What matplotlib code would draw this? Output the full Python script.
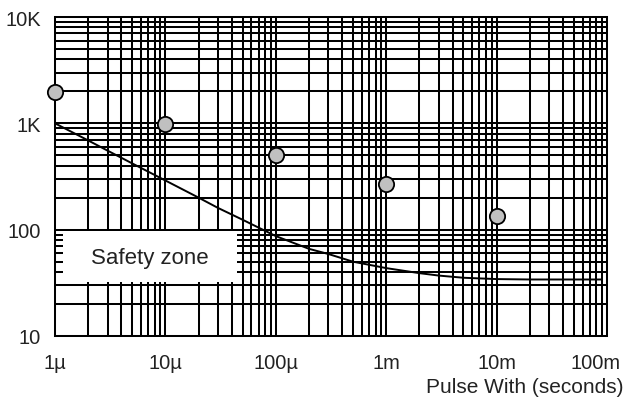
import matplotlib.pyplot as plt
from matplotlib.patches import Rectangle
from matplotlib.ticker import LogLocator, NullFormatter
import matplotlib.transforms as mtransforms

plt.rcParams['font.family'] = ['Liberation Sans', 'DejaVu Sans']

# measured surge points (pulse width in seconds, value)
pulse_pts = [1e-6, 1e-5, 1e-4, 1e-3, 1e-2]
surge_pts = [1950, 985, 503, 268, 134]

# limit curve
curve_t = [1e-6, 2e-6, 3e-6, 5e-6, 1e-5, 2e-5, 3e-5, 5e-5, 1e-4, 2e-4,
           3e-4, 5e-4, 1e-3, 2e-3, 3e-3, 5e-3, 1e-2, 2e-2, 5e-2, 9e-2]
curve_v = [1000, 690, 553, 420, 290, 200, 160, 124, 87, 66,
           59, 50, 43.5, 39, 37, 35.3, 34.3, 34, 34, 34]

xticks = [1e-6, 1e-5, 1e-4, 1e-3, 1e-2, 1e-1]
xlabels = ['1µ', '10µ', '100µ', '1m', '10m', '100m']
yticks = [10, 100, 1000, 10000]
ylabels = ['10', '100', '1K', '10K']

txt = '#222222'

fig = plt.figure(figsize=(6.28, 4.02), dpi=100)
ax = fig.add_axes([55/628, 1 - 337/402, 552/628, 319/402])
ax.set_xscale('log')
ax.set_yscale('log')
ax.set_xlim(1e-6, 1e-1)
ax.set_ylim(10, 10000)

# full log grid, major and minor, all the same black lines
ax.xaxis.set_minor_locator(LogLocator(base=10, subs=range(2, 10), numticks=20))
ax.yaxis.set_minor_locator(LogLocator(base=10, subs=range(2, 10), numticks=20))
ax.xaxis.set_minor_formatter(NullFormatter())
ax.yaxis.set_minor_formatter(NullFormatter())
ax.set_axisbelow(True)
ax.grid(True, which='both', color='black', linewidth=1.45)

ax.set_xticks(xticks)
ax.set_xticklabels(xlabels)
ax.set_yticks(yticks)
ax.set_yticklabels(ylabels)
ax.tick_params(which='both', length=0, labelsize=14.5, colors=txt)
ax.tick_params(axis='x', pad=12)
ax.tick_params(axis='y', pad=10)
for s in ax.spines.values():
    s.set_color('black')
    s.set_linewidth(1.45)

# nudge the last x label so it stays inside the figure
last = ax.get_xticklabels()[-1]
last.set_transform(last.get_transform() +
                   mtransforms.ScaledTranslation(-11/100, 0, fig.dpi_scale_trans))

# white box for the safety zone label
box = Rectangle((1.18e-6, 32), 44.6e-6 - 1.18e-6, 97 - 32,
                facecolor='white', edgecolor='none', zorder=2)
ax.add_patch(box)
ax.text(7.25e-6, 55, 'Safety zone', ha='center', va='center',
        fontsize=16, color=txt, zorder=3)

ax.plot(curve_t, curve_v, color='black', linewidth=1.4, zorder=3)
ax.plot(pulse_pts, surge_pts, linestyle='none', marker='o', markersize=11,
        markerfacecolor='#c0c0c0', markeredgecolor='black',
        markeredgewidth=1.3, zorder=4, clip_on=False)

fig.text(624/628, 1 - 388/402, 'Pulse With (seconds)', ha='right',
         va='center', fontsize=15, color=txt)

fig.savefig('out.png', dpi=100)
